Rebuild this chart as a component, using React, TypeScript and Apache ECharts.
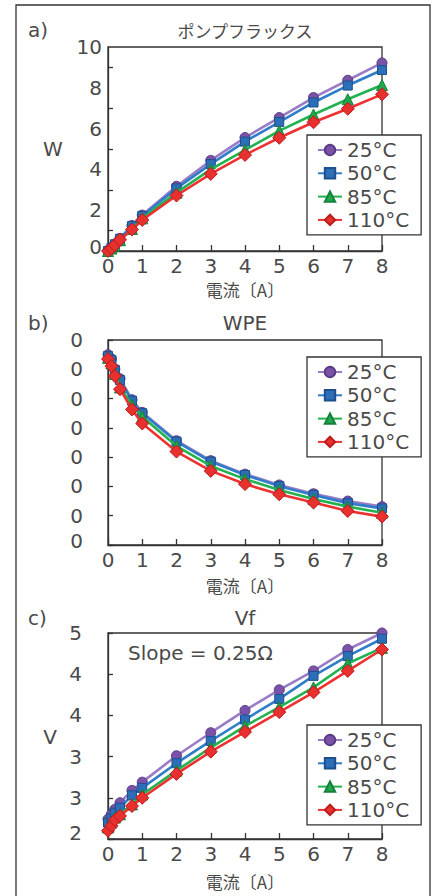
import React, { useEffect, useRef } from "react";
import * as echarts from "echarts";

const xValues = [0, 0.1, 0.2, 0.35, 0.7, 1, 2, 3, 4, 5, 6, 7, 8];
const seriesNames = ["25°C", "50°C", "85°C", "110°C"];

const pump25 = [0.03, 0.16, 0.35, 0.62, 1.25, 1.76, 3.17, 4.44, 5.56, 6.54, 7.52, 8.37, 9.22];
const pump50 = [0.0, 0.15, 0.33, 0.6, 1.22, 1.72, 3.07, 4.26, 5.36, 6.32, 7.28, 8.11, 8.87];
const pump85 = [0.0, 0.12, 0.27, 0.53, 1.08, 1.6, 2.86, 4.0, 4.95, 5.89, 6.69, 7.44, 8.14];
const pump110 = [0.0, 0.12, 0.29, 0.55, 1.05, 1.52, 2.72, 3.78, 4.71, 5.55, 6.31, 6.97, 7.68];

const wpe25 = [65.0, 63.5, 60.1, 56.8, 49.6, 45.3, 35.6, 28.8, 24.2, 20.5, 17.5, 15.0, 13.1];
const wpe50 = [64.5, 63.2, 59.8, 56.3, 49.3, 45.0, 35.3, 28.5, 23.9, 20.1, 17.1, 14.3, 12.5];
const wpe85 = [63.9, 62.0, 58.4, 53.8, 47.8, 43.8, 33.8, 27.0, 22.5, 18.8, 15.7, 13.1, 11.0];
const wpe110 = [63.5, 61.1, 57.7, 53.2, 46.3, 41.5, 31.9, 25.3, 20.8, 17.3, 14.5, 11.6, 9.7];

const vf25 = [2.74, 2.8, 2.86, 2.94, 3.09, 3.19, 3.51, 3.79, 4.06, 4.31, 4.54, 4.8, 5.0];
const vf50 = [2.7, 2.75, 2.82, 2.88, 3.03, 3.12, 3.42, 3.69, 3.95, 4.2, 4.48, 4.72, 4.93];
const vf85 = [2.64, 2.7, 2.76, 2.8, 2.92, 3.04, 3.33, 3.61, 3.87, 4.1, 4.34, 4.63, 4.82];
const vf110 = [2.6, 2.66, 2.73, 2.78, 2.9, 3.0, 3.29, 3.56, 3.8, 4.04, 4.28, 4.54, 4.8];

const xTickLabels = ["0", "1", "2", "3", "4", "5", "6", "7", "8"];
const yTickLabelsA = ["0", "2", "4", "6", "8", "10"];
const yTickLabelsB = ["0", "0", "0", "0", "0", "0", "0", "0"];
const yTickLabelsC = ["2", "3", "3", "4", "4", "5"];

const panelLabels = ["a)", "b)", "c)"];
const panelTitles = ["ポンプフラックス", "WPE", "Vf"];
const yNames = ["W", "", "V"];
const xName = "電流〔A〕";
const slopeNote = "Slope = 0.25Ω";

const LAT = "DejaVu Sans, Noto Sans CJK JP, sans-serif";
const JP = "Noto Sans CJK JP, sans-serif";
const TXT = "#4a4a4a";
const AX = "#333";

const styles = [
  { symbol: "circle", size: 10, fill: "#7a52a8", edge: "#5b3a86", line: "#9a7cc6" },
  { symbol: "rect", size: 9, fill: "#2c6fb8", edge: "#1c4f8c", line: "#2f7dc8" },
  { symbol: "triangle", size: 11, fill: "#1fa84c", edge: "#13813a", line: "#22b24f" },
  { symbol: "diamond", size: 13, fill: "#e8302e", edge: "#b81c1c", line: "#ee3030" },
];

const grids = [
  { left: 108, top: 47, width: 274, height: 204 },
  { left: 108, top: 340, width: 274, height: 205 },
  { left: 108, top: 633, width: 274, height: 206 },
];

export default function App() {
  const ref = useRef<HTMLDivElement>(null);
  useEffect(() => {
    if (!ref.current) return;
    const chart = echarts.init(ref.current, null, { renderer: "svg" });
    const panels = [
      [pump25, pump50, pump85, pump110],
      [wpe25, wpe50, wpe85, wpe110],
      [vf25, vf50, vf85, vf110],
    ];
    const series: any[] = [];
    panels.forEach((set, gi) => {
      set.forEach((vals, si) => {
        const s = styles[si];
        series.push({
          type: "line",
          name: seriesNames[si],
          xAxisIndex: gi,
          yAxisIndex: gi,
          data: xValues.map((x, i) => [x, vals[i]]),
          symbol: s.symbol,
          symbolSize: s.size,
          showSymbol: true,
          clip: false,
          lineStyle: { color: s.line, width: 2.6 },
          itemStyle: { color: s.fill, borderColor: s.edge, borderWidth: 1 },
          z: 3 + si,
        });
      });
    });

    const xAxes = grids.map((_, gi) => ({
      type: "value",
      gridIndex: gi,
      min: 0,
      max: 8,
      interval: 1,
      name: xName,
      nameLocation: "middle",
      nameGap: [38.5, 40, 42.5][gi],
      nameTextStyle: { fontFamily: JP, fontSize: 17, color: TXT, verticalAlign: "middle" },
      axisLine: { show: true, lineStyle: { color: AX, width: 1.3 } },
      axisTick: { show: true, inside: true, length: 6, lineStyle: { color: AX, width: 1.3 } },
      splitLine: { show: false },
      axisLabel: {
        margin: 5,
        fontFamily: LAT,
        fontSize: 20,
        color: TXT,
        formatter: (v: number) => xTickLabels[Math.round(v)] ?? "",
      },
    }));

    const bottomRich = { lo: { padding: [0, 0, 9, 0], fontFamily: LAT, fontSize: 20, color: TXT } };
    const yAxes = [
      {
        type: "value",
        gridIndex: 0,
        min: 0,
        max: 10,
        interval: 2,
        axisLine: { show: true, lineStyle: { color: AX, width: 1.3 } },
        axisTick: { show: false, inside: true, length: 5 },
        minorTick: { show: true, splitNumber: 2, length: 5, lineStyle: { color: AX, width: 1.3 } },
        splitLine: { show: false },
        minorSplitLine: { show: false },
        axisLabel: {
          margin: 6,
          fontFamily: LAT,
          fontSize: 20,
          color: TXT,
          rich: bottomRich,
          formatter: (v: number) => {
            const t = yTickLabelsA[Math.round(v / 2)] ?? "";
            return Math.round(v) === 0 ? `{lo|${t}}` : t;
          },
        },
      },
      {
        type: "value",
        gridIndex: 1,
        min: 0,
        max: 70,
        interval: 10,
        axisLine: { show: true, lineStyle: { color: AX, width: 1.3 } },
        axisTick: { show: true, inside: true, length: 5, lineStyle: { color: AX, width: 1.3 } },
        splitLine: { show: false },
        axisLabel: {
          margin: 25,
          fontFamily: LAT,
          fontSize: 20,
          color: TXT,
          rich: bottomRich,
          formatter: (v: number) => {
            const idx = Math.round(v / 10);
            const t = yTickLabelsB[idx] ?? "";
            return idx === 0 ? `{lo|${t}}` : t;
          },
        },
      },
      {
        type: "value",
        gridIndex: 2,
        min: 2.5,
        max: 5,
        interval: 0.5,
        axisLine: { show: true, lineStyle: { color: AX, width: 1.3 } },
        axisTick: { show: true, inside: true, length: 5, lineStyle: { color: AX, width: 1.3 } },
        splitLine: { show: false },
        axisLabel: {
          margin: 26,
          fontFamily: LAT,
          fontSize: 20,
          color: TXT,
          rich: { lo: { padding: [0, 0, 12, 0], fontFamily: LAT, fontSize: 20, color: TXT } },
          formatter: (v: number) => {
            const idx = Math.round((v - 2.5) / 0.5);
            const t = yTickLabelsC[idx] ?? "";
            return idx === 0 ? `{lo|${t}}` : t;
          },
        },
      },
    ];

    const legendTops = [135, 357, 725];
    const legends = legendTops.map((top) => ({
      left: 307,
      top,
      orient: "vertical",
      padding: [5, 12, 5, 10],
      itemGap: 3.3,
      itemWidth: 24,
      itemHeight: 13,
      borderColor: AX,
      borderWidth: 1.3,
      backgroundColor: "#fff",
      selectedMode: false,
      textStyle: { fontFamily: LAT, fontSize: 20, color: TXT },
      data: seriesNames,
    }));

    const titleYs = [30, 323, 618];
    const graphic: any[] = [
      {
        type: "rect",
        silent: true,
        z: -1,
        shape: { x: 16, y: 5, width: 414, height: 900 },
        style: { fill: "none", stroke: AX, lineWidth: 1.3 },
      },
    ];
    titleYs.forEach((y, i) => {
      graphic.push({
        type: "text",
        x: 28,
        y,
        style: { text: panelLabels[i], font: `20px ${LAT}`, fill: TXT, verticalAlign: "middle" },
      });
      graphic.push({
        type: "text",
        x: 245,
        y,
        style: {
          text: panelTitles[i],
          font: i === 0 ? `17px ${JP}` : `20px ${LAT}`,
          fill: TXT,
          align: "center",
          verticalAlign: "middle",
        },
      });
    });
    graphic.push({
      type: "text",
      x: 53,
      y: 149,
      style: { text: yNames[0], font: `20px ${LAT}`, fill: TXT, align: "center", verticalAlign: "middle" },
    });
    graphic.push({
      type: "text",
      x: 50,
      y: 737,
      style: { text: yNames[2], font: `20px ${LAT}`, fill: TXT, align: "center", verticalAlign: "middle" },
    });
    graphic.push({
      type: "text",
      x: 128,
      y: 653,
      style: { text: slopeNote, font: `20px ${LAT}`, fill: TXT, verticalAlign: "middle" },
    });

    chart.setOption({
      animation: false,
      backgroundColor: "#fff",
      grid: grids.map((g) => ({ ...g, show: true, borderColor: AX, borderWidth: 1.3, backgroundColor: "transparent" })),
      xAxis: xAxes,
      yAxis: yAxes,
      legend: legends,
      series,
      graphic,
    });
    return () => chart.dispose();
  }, []);
  return <div ref={ref} style={{ position: "fixed", left: 0, top: 0, width: 436, height: 896 }} />;
}
